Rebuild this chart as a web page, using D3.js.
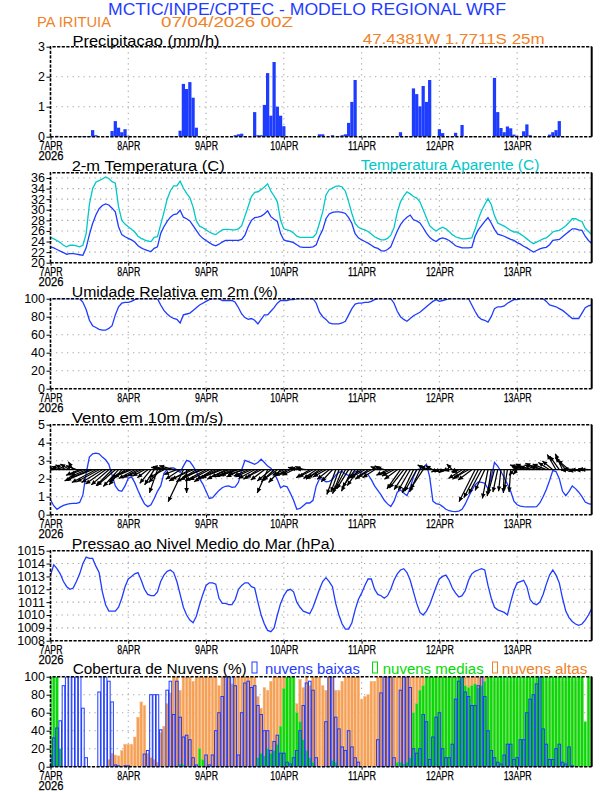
<!DOCTYPE html>
<html><head><meta charset="utf-8">
<script src="https://cdn.jsdelivr.net/npm/d3@7"></script>
<style>body{margin:0;background:#fff}svg{display:block}</style>
</head><body><svg id="c" width="612" height="792"></svg>
<script>
// ---------------- DATA (hourly, 07APR2026 00Z .. 13APR2026 23Z) ----------------
const dayLabels = ["7APR","8APR","9APR","10APR","11APR","12APR","13APR"];
const dayHours = [0,24,48,72,96,120,144];
const yearLabel = "2026";

const precip = [
 0,0,0.03,0,0,0,0,0,0.02,0.02,0.02,0.02,0.02,0.22,0.05,0,0,0,0,0.19,0.52,0.3,0.15,0.25,
 0.03,0,0,0,0,0,0,0,0,0,0,0,0.02,0.02,0.02,0,0.2,1.76,1.59,1.82,1.3,0.3,0,0,
 0,0,0,0,0,0,0,0,0,0.05,0.08,0.1,0.02,0,0,0.82,0.05,0.05,1.06,2.12,0.7,2.49,1.0,0.7,
 0.35,0,0.02,0,0,0,0,0,0,0,0,0.08,0.08,0,0,0.05,0,0.02,0.05,0.08,0.46,1.16,1.89,0,
 0,0,0,0,0,0,0,0,0,0,0,0.02,0.15,0,0,0.02,1.61,1.42,1.01,1.69,1.16,1.89,0,0,
 0.25,0.12,0,0,0,0.13,0,0.39,0,0,0.02,0.02,0,0,0,0,0,1.96,0.82,0.29,0.15,0.34,0.28,0.07,
 0.03,0,0.18,0.41,0.05,0,0,0,0,0,0.07,0.15,0.22,0.52,0.02,0,0,0,0,0,0,0,0,0];

const temp2m = [
 23.0,22.8,22.5,22.2,21.9,21.6,21.7,21.7,21.6,21.5,21.4,22.8,25.3,27.4,29.0,30.2,30.8,31.1,30.9,30.3,29.6,26.8,25.3,24.9,
 24.6,24.3,23.9,23.2,22.8,22.5,22.3,22.1,22.7,23.0,25.5,26.8,27.8,28.6,29.1,29.2,29.9,28.6,28.3,27.9,27.0,26.1,25.2,24.6,
 24.2,23.8,23.4,23.2,23.5,23.9,24.2,24.2,24.2,24.2,24.2,24.4,25.2,26.8,28.0,28.5,28.6,28.8,29.2,29.8,28.7,28.2,27.8,25.5,
 24.3,24.1,24.0,23.8,23.4,23.0,22.9,22.9,22.9,23.0,23.4,25.0,26.2,28.3,29.2,29.5,29.6,29.6,29.5,29.3,28.5,27.4,25.5,24.7,
 24.3,24.0,23.7,23.3,22.9,22.7,22.3,22.2,22.5,23.0,24.5,26.0,27.2,28.0,28.6,29.0,28.1,27.9,27.5,26.6,25.6,24.8,24.3,24.0,
 24.5,24.7,24.5,24.2,23.7,23.2,23.0,22.8,22.8,22.8,22.9,25.0,26.2,27.0,27.8,28.5,27.5,26.3,25.4,25.2,25.0,24.7,24.4,24.2,
 23.8,23.5,23.1,22.8,22.4,22.0,22.3,22.6,22.8,22.9,23.4,24.2,24.3,24.4,24.9,25.4,25.9,26.4,26.4,26.2,26.1,25.0,24.2,23.6];

const tempApparent = [
 24.8,24.5,24.2,23.8,23.3,23.0,23.3,23.3,23.2,23.0,23.3,25.5,31.0,34.0,35.2,35.5,35.8,36.2,35.9,35.3,35.0,30.6,28.0,27.3,
 26.8,26.3,25.8,25.0,24.6,24.3,24.1,24.0,24.8,24.9,27.2,29.5,32.0,33.6,34.5,34.5,35.4,34.1,33.1,32.3,30.5,27.9,26.9,26.6,
 26.2,25.8,25.5,25.3,25.8,26.2,26.3,26.3,26.2,26.2,26.4,27.0,28.8,30.6,32.5,33.3,33.4,33.8,34.3,34.9,33.5,32.6,31.5,28.0,
 26.4,26.2,26.0,25.6,25.0,24.8,24.8,24.8,24.8,24.8,25.5,27.5,29.6,32.8,33.8,34.1,34.4,34.5,34.3,33.5,31.5,29.3,27.4,26.7,
 26.4,26.2,25.9,25.4,24.9,24.6,24.3,24.3,24.6,25.2,26.6,29.5,31.5,32.6,33.4,33.0,32.5,32.2,31.5,30.0,28.5,27.0,26.4,26.0,
 26.4,26.7,26.4,25.9,25.3,24.9,24.7,24.5,24.5,24.6,24.7,26.3,28.2,29.8,31.0,32.1,31.0,28.9,27.5,27.2,26.9,26.5,26.1,25.8,
 25.8,25.4,25.0,24.5,24.0,23.6,23.9,24.2,24.5,24.7,25.2,25.8,26.0,26.1,26.5,27.0,27.6,28.3,28.3,28.0,27.8,26.5,25.9,25.3];

const relHumidity = [
 100,100,100,100,100,100,100,100,100,100,96,88,76,70,68,66,65,65,67,70,82,91,95,96,
 96,97,99,100,100,100,100,100,100,100,93,87,83,80,78,77,73,82,83,84,87,90,93,95,
 97,99,100,100,100,98,98,98,98,96,90,83,79,77,78,76,72,77,82,82,86,90,95,98,
 98,98,99,99,100,100,100,100,100,100,95,85,80,77,73,72,72,72,73,75,82,89,94,95,
 95,96,96,97,99,100,100,100,100,100,95,86,80,77,75,78,81,83,85,88,91,94,97,99,
 97,98,99,100,100,100,100,100,100,100,93,86,80,77,76,74,80,89,91,91,92,95,97,99,
 99,100,100,100,100,100,100,100,100,97,93,92,91,89,87,84,81,78,78,78,84,90,92,93];

const windSpeed = [
 0.83,0.5,0.3,0.42,0.52,0.58,0.62,0.63,0.63,0.68,1.1,2.3,3.2,3.38,3.42,3.38,3.2,3.05,2.8,2.2,1.6,1.35,1.3,1.6,
 2.02,2.1,1.78,1.35,0.95,0.6,0.45,0.55,0.9,1.3,1.6,2.3,2.5,2.6,2.6,2.5,2.35,2.7,3.02,2.95,2.7,2.4,2.0,1.7,
 1.3,0.9,0.95,1.15,1.35,1.5,1.58,1.6,1.52,1.55,1.8,2.5,3.02,2.95,2.88,2.8,2.9,3.08,2.9,2.7,2.58,2.3,1.95,1.5,
 1.6,1.55,1.2,0.8,0.3,0.35,0.5,0.65,0.65,0.8,1.6,2.0,1.95,1.83,1.85,1.95,2.2,2.35,2.4,2.25,2.18,2.2,2.4,2.4,
 2.33,2.28,2.22,1.95,1.6,1.35,1.1,0.8,0.6,0.45,0.75,1.25,1.38,1.2,1.05,1.5,2.1,2.5,2.55,2.63,2.8,2.1,0.75,0.62,
 0.58,0.45,0.3,0.22,0.18,0.17,0.2,0.3,0.6,1.0,1.35,1.65,1.82,1.8,1.75,1.45,2.05,2.9,2.7,2.4,2.05,1.7,1.3,0.75,
 0.55,0.48,0.45,0.44,0.44,0.44,0.45,0.65,1.0,1.4,1.9,2.45,2.4,2.0,1.3,1.06,1.3,1.6,1.45,1.25,1.0,0.7,0.62,0.58];

// wind vector components (m/s) drawn as arrows on the 2.5 line
const windU = [
 -1.7,-1.8,-1.6,-1.7,-1.5,-1.4,-1.2,-0.6,-1.3,-1.7,-1.6,-2.0,-3.1,-3.3,-3.0,-2.8,-2.6,-2.5,-2.2,-2.0,-2.3,-1.9,-1.6,-2.0,
 -2.1,-2.2,-2.0,-1.9,-1.7,-1.5,-1.3,-1.4,-1.2,-1.0,-1.5,-1.9,-2.0,-2.2,-1.8,-1.6,-1.8,-1.9,0.0,-2.6,-2.7,-2.5,-2.4,-2.6,
 -2.6,-2.5,-2.3,-2.4,-2.5,-2.6,-2.3,-2.2,-2.1,-2.0,-2.2,-1.9,-2.1,-1.8,-2.0,-2.0,-1.8,-1.9,-1.7,-1.3,-1.7,-1.6,-1.8,-1.5,
 -1.4,-1.5,-1.3,-1.4,-1.1,-1.2,-1.0,-1.3,-1.7,-1.8,-1.6,-1.7,-1.9,-1.6,-1.5,-1.4,-1.1,-1.0,-1.2,-1.4,-1.5,-1.3,-1.6,-1.4,
 -1.7,-1.8,-1.6,-1.7,-1.5,-0.9,-0.8,-1.0,-1.4,-1.3,-1.5,-1.6,-1.7,-1.8,-1.6,-1.5,-1.4,-1.5,-1.3,-1.6,-1.1,-1.2,-0.9,-0.6,
 -0.6,-0.5,-0.4,-0.6,-0.7,-0.5,-0.8,-1.7,-1.6,-1.8,-1.7,-2.0,-1.8,-1.6,-1.2,-0.7,-0.5,-0.8,-0.6,-0.3,-0.1,-0.4,-0.2,-0.6,
 -0.5,-1.0,-1.7,-1.6,-1.8,-1.7,-1.5,-1.8,-1.6,-1.7,-1.4,-1.3,-1.1,-1.2,-0.9,-1.3,-1.4,-1.4,-1.5,-1.3,-1.4,-1.2,-1.3,-1.4];
const windV = [
 0.3,0.2,0.4,0.2,0.4,0.6,0.7,1.0,0.5,-0.7,-0.6,-0.9,-1.4,-1.3,-1.6,-1.5,-1.6,-1.8,-1.9,-2.0,-2.0,-2.1,-1.9,-1.5,
 -1.0,-0.9,-1.1,-1.0,-0.8,-0.8,-1.0,-1.7,-1.9,-2.9,-1.6,-1.0,0.3,0.4,0.5,-0.6,-1.2,-4.0,-2.9,-1.4,-1.2,-1.5,-1.3,-1.0,
 -1.4,-1.3,-1.5,-1.2,-1.1,-1.0,-1.2,-0.9,-0.9,-0.8,-0.7,-0.9,-0.6,-0.8,-0.9,-1.1,-1.2,-1.0,-1.3,-2.9,-1.4,-1.5,-1.3,-1.6,
 -0.7,-0.8,-0.6,-0.7,0.3,0.2,0.4,0.1,-1.0,-0.9,-1.1,-1.2,-1.0,-0.9,-1.2,-1.5,-3.1,-2.8,-3.0,-2.6,-2.4,-2.7,-2.2,-2.0,
 -1.1,-1.0,-1.2,-0.9,-1.0,0.4,0.5,0.3,-0.7,-0.6,-0.8,-1.2,-2.4,-2.3,-2.5,-2.6,-2.9,-2.7,-2.8,-2.4,0.6,0.4,0.5,-0.3,
 -0.3,-0.4,-0.2,-0.1,0.7,-0.3,-0.4,-1.1,-1.2,-1.0,-1.3,-4.0,-3.5,-3.0,-2.6,-3.6,-3.3,-3.0,-2.8,-2.7,-2.9,-2.5,-2.8,-0.7,
 -0.6,0.3,0.6,0.5,0.7,0.4,0.6,0.8,0.5,0.7,0.9,1.1,1.9,1.7,2.0,1.5,1.2,-0.1,0.1,-0.2,0.0,-0.1,0.1,0.0];

const pressure = [
 1013.1,1013.9,1013.6,1013.2,1012.6,1012.2,1012.0,1012.1,1012.6,1013.2,1014.0,1014.5,1014.4,1014.4,1013.8,1013.3,1011.8,1010.8,1010.3,1010.3,1010.3,1010.6,1011.3,1012.2,
 1012.8,1013.0,1013.2,1013.3,1012.7,1012.0,1011.6,1011.5,1011.5,1011.8,1012.6,1013.1,1013.4,1013.5,1013.3,1012.6,1011.6,1010.6,1010.0,1009.6,1009.4,1009.9,1010.8,1011.6,
 1012.3,1012.5,1012.5,1012.4,1011.3,1010.9,1010.9,1010.8,1010.8,1011.2,1012.0,1012.3,1012.5,1012.5,1012.2,1012.1,1011.0,1010.0,1009.3,1008.8,1008.7,1009.0,1010.0,1010.9,
 1011.5,1011.9,1012.0,1011.8,1011.0,1010.6,1010.3,1010.2,1010.1,1010.6,1011.3,1012.0,1012.6,1012.9,1012.6,1012.2,1010.9,1010.0,1009.3,1008.9,1008.9,1009.4,1010.4,1011.2,
 1011.7,1012.3,1012.8,1012.8,1012.0,1011.6,1011.5,1011.3,1011.5,1012.0,1012.7,1013.2,1013.5,1013.6,1013.3,1012.7,1011.8,1010.9,1010.2,1010.0,1010.3,1010.8,1011.5,1012.2,
 1012.8,1013.0,1013.1,1012.7,1012.1,1011.7,1011.4,1011.5,1011.9,1012.7,1013.2,1013.4,1013.5,1013.6,1013.5,1012.3,1011.3,1010.6,1010.4,1010.3,1010.2,1010.0,1011.0,1011.9,
 1012.5,1012.6,1012.7,1012.2,1011.2,1010.9,1010.8,1011.0,1011.6,1012.4,1013.1,1013.5,1013.1,1012.5,1011.3,1010.3,1009.8,1009.5,1009.3,1009.2,1009.3,1009.6,1010.0,1010.5];

const cloudLow = [
 12,32,43,51,90,100,100,100,100,100,65,10,0,0,0,83,100,100,95,72,2,1,0,1,
 1,0,0,0,0,14,18,80,80,80,41,0,85,95,58,95,55,33,35,30,10,2,0,0,
 13,2,13,40,60,78,100,100,100,90,13,60,93,95,88,90,68,58,40,40,18,28,35,15,
 15,5,3,10,18,40,68,93,95,85,10,0,0,50,100,100,55,42,22,18,40,22,10,5,
 0,0,0,0,0,30,82,100,100,100,10,0,85,100,100,88,20,15,20,58,50,8,33,55,
 60,20,10,10,25,75,95,100,83,78,68,68,90,100,78,40,18,10,5,3,13,25,25,8,
 10,30,30,60,75,80,92,100,42,25,8,8,20,25,5,3,22,1,0,0,0,0,0,0];
const cloudMid = [
 100,100,100,20,0,0,0,0,0,0,0,0,0,0,0,0,0,0,0,0,0,0,0,0,
 0,0,0,0,0,0,0,0,0,0,0,0,0,0,0,0,3,2,0,0,0,0,20,8,
 0,0,0,0,0,0,0,0,0,0,0,0,0,0,0,0,10,15,12,20,15,18,25,45,
 87,100,100,100,60,50,30,18,10,5,0,0,0,0,0,7,5,0,0,0,0,0,0,0,
 0,0,0,0,0,0,0,0,0,0,0,5,5,3,5,10,60,70,85,90,100,100,100,100,
 100,100,100,100,100,100,100,100,90,88,90,92,88,90,95,100,100,100,100,100,100,100,100,100,
 100,100,100,100,100,100,100,100,100,100,100,100,100,100,100,100,100,100,100,100,100,50,100,100];
const cloudHigh = [
 18,5,0,0,0,0,0,0,0,0,0,0,0,0,0,0,0,0,8,15,13,12,18,25,
 25,25,33,55,72,68,15,10,8,5,38,45,70,82,100,100,85,100,100,100,95,100,100,100,
 100,100,100,100,90,100,100,100,92,100,100,100,100,100,100,100,78,65,88,85,95,100,100,100,
 100,100,100,100,70,97,88,100,90,100,100,100,90,85,100,100,85,85,95,100,100,100,100,100,
 75,78,80,95,95,100,100,100,100,100,100,100,100,100,100,100,100,100,100,100,100,100,100,100,
 100,100,100,100,100,100,100,100,100,100,100,100,100,100,100,100,95,95,95,95,95,95,95,95,
 95,95,95,95,95,95,95,95,95,95,95,95,95,95,95,95,95,95,95,95,95,0,95,95];

// ---------------- DRAWING ----------------
const FONT = "'Liberation Sans', Arial, sans-serif";
const BLUE = "rgb(30,60,255)", CYAN = "rgb(0,200,200)", ORANGE = "rgb(240,130,40)",
      GREEN = "rgb(0,220,0)", CORANGE = "rgb(245,160,85)";
const svg = d3.select("#c");
const defs = svg.append("defs");
const x = d3.scaleLinear().domain([0, 167]).range([50.5, 591.7]);
const PH = 90;
const tops = [46.7, 172.7, 298.7, 424.7, 550.7, 676.7];

function addText(s, x0, y0, w, size, fill, anchor) {
  const t = svg.append("text").attr("x", x0).attr("y", y0).text(s)
    .attr("font-family", FONT).attr("font-size", size).attr("fill", fill);
  if (w) t.attr("textLength", w).attr("lengthAdjust", "spacingAndGlyphs");
  if (anchor) t.attr("text-anchor", anchor);
  return t;
}

function makePanel(idx, domain, ticks) {
  const top = tops[idx], bot = top + PH;
  const y = d3.scaleLinear().domain(domain).range([bot, top]);
  const g = svg.append("g");
  const clipId = "clip" + idx;
  defs.append("clipPath").attr("id", clipId).append("rect")
    .attr("x", x(0)).attr("y", top).attr("width", x(167) - x(0)).attr("height", PH);
  const grid = g.append("g").attr("stroke", "#a8a8a8").attr("stroke-width", 1.1)
    .attr("stroke-dasharray", "1.3,4.2");
  grid.selectAll(null).data(ticks.filter(t => t > domain[0] && t < domain[1])).join("line")
    .attr("x1", x(0)).attr("x2", x(167)).attr("y1", d => y(d)).attr("y2", d => y(d));
  grid.selectAll(null).data(dayHours.slice(1)).join("line")
    .attr("x1", d => x(d)).attr("x2", d => x(d)).attr("y1", top).attr("y2", bot);
  const data = g.append("g").attr("clip-path", `url(#${clipId})`);
  return {g, data, y, top, bot, ticks};
}

function finishPanel(p) {
  const {g, y, top, bot, ticks} = p;
  const ay = g.append("g").attr("transform", `translate(${x(0)},0)`)
    .call(d3.axisLeft(y).tickValues(ticks).tickSize(4).tickPadding(1.5).tickFormat(d3.format("d")));
  ay.select(".domain").remove();
  ay.selectAll("line").attr("stroke", "#000").attr("stroke-width", 1);
  ay.selectAll("text").attr("font-family", FONT).attr("font-size", 12.5).attr("fill", "#000");
  const ax = g.append("g").attr("transform", `translate(0,${bot})`)
    .call(d3.axisBottom(x).tickValues(dayHours).tickSize(3).tickFormat((d, i) => dayLabels[i]));
  ax.select(".domain").remove();
  ax.selectAll("line").attr("stroke", "#000").attr("stroke-width", 1);
  const tx = ax.selectAll("text").attr("font-family", FONT).attr("font-size", 12.5).attr("fill", "#000")
    .attr("y", 13.5).attr("dy", null)
    .attr("stroke", "#000").attr("stroke-width", 0.25);
  tx.each(function(d, i) {
    const t = d3.select(this);
    t.text(null);
    t.append("tspan").attr("x", 0).attr("y", 13.5).text(dayLabels[i])
      .attr("textLength", dayLabels[i].length === 4 ? 23 : 28).attr("lengthAdjust", "spacingAndGlyphs");
    if (i === 0) {
      t.append("tspan").attr("x", 0).attr("y", 23).text(yearLabel)
        .attr("textLength", 25).attr("lengthAdjust", "spacingAndGlyphs");
    }
  });
  const fr = g.append("g").attr("fill", "none").attr("stroke", "#000");
  fr.append("path").attr("d", `M${x(0)},${bot}V${top}H${x(167)}M${x(0)},${bot}H${x(167)}`)
    .attr("stroke-width", 1.6).attr("stroke-dasharray", "3.2,1.4");
  fr.append("path").attr("d", `M${x(167)},${top}V${bot}`).attr("stroke-width", 2);
}

const lineOf = (y) => d3.line().x((d, i) => x(i)).y(d => y(d));

// Header
addText("MCTIC/INPE/CPTEC - MODELO REGIONAL WRF", 108, 14.5, 398, 16, BLUE);
addText("PA IRITUIA", 37, 26.5, 74, 14, ORANGE);
addText("07/04/2026 00Z", 161, 26.5, 132, 14, ORANGE);

// 1 Precipitation
{
  const p = makePanel(0, [0, 3], [0, 1, 2, 3]);
  p.data.selectAll(null).data(precip).join("rect")
    .attr("x", (d, i) => x(i) - 1.62).attr("width", 3.24)
    .attr("y", d => p.y(d)).attr("height", d => p.bot - p.y(d)).attr("fill", BLUE);
  finishPanel(p);
  addText("Precipitacao (mm/h)", 72.5, 45.5, 147, 14, "#000");
  addText("47.4381W 1.7711S 25m", 362.7, 43.5, 182, 14, ORANGE);
}
// 2 Temperature
{
  const p = makePanel(1, [20, 37], [20, 22, 24, 26, 28, 30, 32, 34, 36]);
  p.data.append("path").datum(tempApparent).attr("d", lineOf(p.y)).attr("fill", "none")
    .attr("stroke", CYAN).attr("stroke-width", 1.3);
  p.data.append("path").datum(temp2m).attr("d", lineOf(p.y)).attr("fill", "none")
    .attr("stroke", BLUE).attr("stroke-width", 1.3);
  finishPanel(p);
  addText("2-m Temperatura (C)", 71.7, 171, 153, 14, "#000");
  addText("Temperatura Aparente (C)", 360.7, 169.5, 178.6, 14, CYAN);
}
// 3 Relative humidity
{
  const p = makePanel(2, [0, 100], [0, 20, 40, 60, 80, 100]);
  p.data.append("path").datum(relHumidity).attr("d", lineOf(p.y)).attr("fill", "none")
    .attr("stroke", BLUE).attr("stroke-width", 1.3);
  finishPanel(p);
  addText("Umidade Relativa em 2m (%)", 71.8, 297, 206, 14, "#000");
}
// 4 Wind
{
  const p = makePanel(3, [0, 5], [0, 1, 2, 3, 4, 5]);
  p.data.append("path").datum(windSpeed).attr("d", lineOf(p.y)).attr("fill", "none")
    .attr("stroke", BLUE).attr("stroke-width", 1.3);
  const y0 = p.y(2.5), S = 8;
  p.data.append("line").attr("x1", x(0)).attr("x2", x(167)).attr("y1", y0).attr("y2", y0)
    .attr("stroke", "#000").attr("stroke-width", 1.3);
  const vec = windU.map((u, i) => ({x0: x(i), y0, x1: x(i) + u * S, y1: y0 - windV[i] * S}));
  p.data.selectAll(null).data(vec).join("line")
    .attr("x1", d => d.x0).attr("y1", d => d.y0).attr("x2", d => d.x1).attr("y2", d => d.y1)
    .attr("stroke", "#000").attr("stroke-width", 1.25);
  p.data.selectAll(null).data(vec).join("path")
    .attr("d", d => {
      const a = Math.atan2(d.y1 - d.y0, d.x1 - d.x0), L = 4.8, W = 2.3;
      const bx = d.x1 - L * Math.cos(a), by = d.y1 - L * Math.sin(a);
      return `M${d.x1},${d.y1}L${bx - W * Math.sin(a)},${by + W * Math.cos(a)}L${bx + W * Math.sin(a)},${by - W * Math.cos(a)}Z`;
    }).attr("fill", "#000");
  finishPanel(p);
  addText("Vento em 10m (m/s)", 71.7, 423, 151.7, 14, "#000");
}
// 5 Pressure
{
  const p = makePanel(4, [1008, 1015], [1008, 1009, 1010, 1011, 1012, 1013, 1014, 1015]);
  p.data.append("path").datum(pressure).attr("d", lineOf(p.y)).attr("fill", "none")
    .attr("stroke", BLUE).attr("stroke-width", 1.3);
  finishPanel(p);
  addText("Pressao ao Nivel Medio do Mar (hPa)", 71.8, 549, 263, 14, "#000");
}
// 6 Clouds
{
  const p = makePanel(5, [0, 100], [0, 20, 40, 60, 80, 100]);
  const BW = 2.6;
  p.data.selectAll(null).data(cloudHigh).join("rect")
    .attr("x", (d, i) => x(i) - BW / 2).attr("width", BW)
    .attr("y", d => p.y(d)).attr("height", d => p.bot - p.y(d))
    .attr("fill", CORANGE).attr("stroke", "rgb(248,190,140)").attr("stroke-width", 0.5);
  p.data.selectAll(null).data(cloudMid).join("rect")
    .attr("x", (d, i) => x(i) - BW / 2).attr("width", BW)
    .attr("y", d => p.y(d)).attr("height", d => p.bot - p.y(d))
    .attr("fill", "rgb(10,215,10)").attr("stroke", "rgb(100,235,100)").attr("stroke-width", 0.5);
  p.data.selectAll(null).data(cloudLow).join("rect")
    .attr("x", (d, i) => x(i) - BW / 2).attr("width", BW)
    .attr("y", d => p.y(d)).attr("height", d => p.bot - p.y(d))
    .attr("fill", "none").attr("stroke", BLUE).attr("stroke-width", 1);
  finishPanel(p);
  addText("Cobertura de Nuvens (%)", 72.7, 674, 174, 14, "#000");
  const leg = [
    {rx: 252, tx: 265, w: 95, s: "nuvens baixas", c: BLUE},
    {rx: 372.5, tx: 382.7, w: 101, s: "nuvens medias", c: GREEN},
    {rx: 492.5, tx: 501.7, w: 85.6, s: "nuvens altas", c: ORANGE}];
  leg.forEach(l => {
    svg.append("rect").attr("x", l.rx).attr("y", 662).attr("width", 5).attr("height", 11)
      .attr("fill", "none").attr("stroke", l.c).attr("stroke-width", 1);
    addText(l.s, l.tx, 674, l.w, 14, l.c);
  });
}
</script></body></html>
